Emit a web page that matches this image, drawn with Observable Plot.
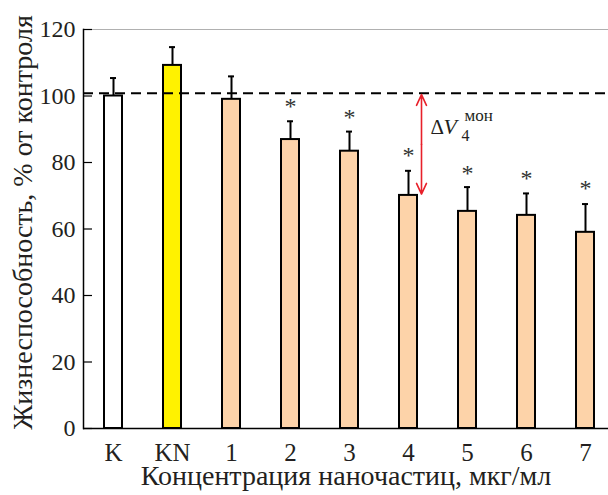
<!DOCTYPE html>
<html>
<head>
<meta charset="utf-8">
<script src="https://cdn.jsdelivr.net/npm/d3@7"></script>
<script src="https://cdn.jsdelivr.net/npm/@observablehq/plot@0.6"></script>
<style>
  html, body { margin: 0; padding: 0; background: #fff; }
  svg { display: block; }
  svg, svg text { font-family: "Liberation Serif", "Times New Roman", Times, "DejaVu Serif", serif !important; }
</style>
</head>
<body>
<div id="chart"></div>
<script>
const categories = ["K", "KN", "1", "2", "3", "4", "5", "6", "7"];
const viability = [100, 109.2, 99.0, 86.9, 83.4, 70.1, 65.3, 64.1, 59.0];
const errorTop = [105.4, 114.7, 105.9, 92.4, 89.3, 77.5, 72.6, 70.7, 67.5];
const significant = [false, false, false, true, true, true, true, true, true];
const starLevel = [null, null, null, 97.8, 94.4, 83.1, 77.8, 76.1, 73.1];
const barColors = ["#ffffff", "#fff200", "#fdd3a9", "#fdd3a9", "#fdd3a9", "#fdd3a9", "#fdd3a9", "#fdd3a9", "#fdd3a9"];
const yTicks = [0, 20, 40, 60, 80, 100, 120];
const controlLevel = 100.8;
const deltaCategory = "4";
const deltaFrom = 70.5;
const deltaTo = 100.4;
const yLabel = "Жизнеспособность, % от контроля";
const xLabel = "Концентрация наночастиц, мкг/мл";

const data = categories.map((c, i) => ({
  cat: c, value: viability[i], err: errorTop[i], fill: barColors[i],
  star: significant[i] ? starLevel[i] : null
}));
const stars = data.filter(d => d.star != null);
const mid = (deltaFrom + deltaTo) / 2;

const serif = "Liberation Serif";
const ink = "#231f20";

const chart = Plot.plot({
  width: 608,
  height: 495,
  marginLeft: 83,
  marginRight: 0,
  marginTop: 29,
  marginBottom: 67,
  style: { color: ink, background: "#fff", overflow: "visible" },
  x: { domain: categories, range: [83, 614], paddingInner: 0.696, paddingOuter: 0.324, align: 0.5, label: null },
  y: { domain: [0, 120], label: null },
  marks: [
    Plot.ruleY([120], { stroke: "#b0b0b0", strokeWidth: 1 }),
    Plot.barY(data, { x: "cat", y: "value", fill: "fill", stroke: "#000", strokeWidth: 2 }),
    Plot.ruleX(data, { x: "cat", y1: "value", y2: "err", stroke: "#000", strokeWidth: 2 }),
    Plot.tickY(data, { x: "cat", y: "err", stroke: "#000", strokeWidth: 2, insetLeft: 6, insetRight: 6 }),
    Plot.text(stars, { x: "cat", y: "star", text: () => "*", fontSize: 24, fill: "#333", lineAnchor: "middle", dy: 3 }),
    Plot.ruleY([controlLevel], { stroke: "#000", strokeWidth: 2, strokeDasharray: "10,6" }),
    Plot.arrow([{ y1: mid, y2: deltaTo }, { y1: mid, y2: deltaFrom }], {
      x1: () => deltaCategory, x2: () => deltaCategory, y1: "y1", y2: "y2",
      dx: 13, stroke: "#e8202a", strokeWidth: 1.6, headLength: 11, headAngle: 50
    }),
    Plot.text([deltaCategory], { x: d => d, y: () => 88.7, text: () => "Δ", dx: 22, textAnchor: "start", lineAnchor: "bottom", fontSize: 21, fill: ink }),
    Plot.text([deltaCategory], { x: d => d, y: () => 88.7, text: () => "V", dx: 35, textAnchor: "start", lineAnchor: "bottom", fontSize: 22, fontStyle: "italic", fill: ink }),
    Plot.text([deltaCategory], { x: d => d, y: () => 88.7, text: () => "4", dx: 53, dy: 7, textAnchor: "start", lineAnchor: "bottom", fontSize: 16, fill: ink }),
    Plot.text([deltaCategory], { x: d => d, y: () => 88.7, text: () => "мон", dx: 56, dy: -13, textAnchor: "start", lineAnchor: "bottom", fontSize: 17, fill: ink }),
    Plot.axisY({ ticks: yTicks, tickSize: 9, dx: 9, tickPadding: 8, fontSize: 24, label: null, stroke: "#000", strokeWidth: 1.2 }),
    Plot.axisX({ tickSize: 0, tickPadding: 15, fontSize: 25, label: null }),
    Plot.ruleY([0], { stroke: "#000", strokeWidth: 1.5 }),
    Plot.frame({ anchor: "left", stroke: "#000", strokeWidth: 1.5 }),
    Plot.text([yLabel], { frameAnchor: "left", textAnchor: "middle", lineAnchor: "middle", rotate: -90, dx: -60, dy: -6.5, fontSize: 28, fill: ink }),
    Plot.text([xLabel], { frameAnchor: "bottom", textAnchor: "middle", dy: 56, fontSize: 28, fill: ink })
  ]
});
document.getElementById("chart").appendChild(chart);
</script>
</body>
</html>
